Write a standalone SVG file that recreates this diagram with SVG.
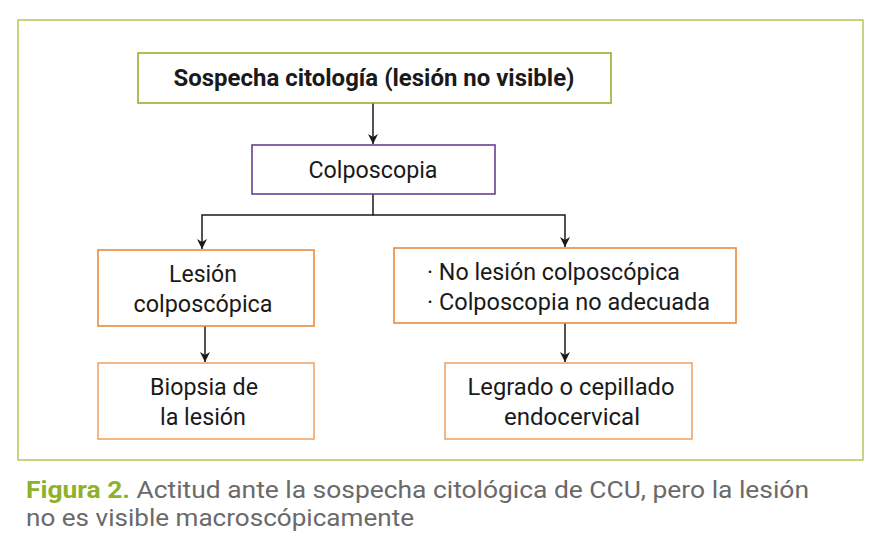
<svg xmlns="http://www.w3.org/2000/svg" width="888" height="552" viewBox="0 0 888 552">
<style>
.t{font-family:Roboto,"Liberation Sans",sans-serif;font-size:23px;fill:#1a1a1a}
.c{text-anchor:middle}
.b{fill:#fff;stroke-width:1.6}
.cap{font-family:Roboto,"Liberation Sans",sans-serif;font-size:23.5px;fill:#6a6a6a}
.con{stroke:#1a1a1a;stroke-width:1.5;fill:none}
</style>
<defs>
<marker id="ah" viewBox="0 0 10 14" refX="10" refY="7" markerWidth="10" markerHeight="14" markerUnits="userSpaceOnUse" orient="auto">
<path d="M0,2 L10,7 L0,12 L3,7 Z" fill="#1a1a1a"/>
</marker>
</defs>
<rect width="888" height="552" fill="#fff"/>
<rect x="18" y="20" width="845" height="440" fill="none" stroke="#b3c85a" stroke-width="1.5"/>
<g id="connectors">
<line class="con" x1="373" y1="103" x2="373" y2="144" marker-end="url(#ah)"/>
<polyline class="con" points="373,194 373,215 202,215 202,249" marker-end="url(#ah)"/>
<polyline class="con" points="373,215 565,215 565,247" marker-end="url(#ah)"/>
<line class="con" x1="205" y1="326" x2="205" y2="362" marker-end="url(#ah)"/>
<line class="con" x1="565" y1="323" x2="565" y2="362" marker-end="url(#ah)"/>
</g>
<g id="n1">
<rect class="b" x="138" y="53" width="473" height="50" stroke="#9aae2c"/>
<text class="t c" x="374" y="86" font-weight="bold" textLength="401" lengthAdjust="spacingAndGlyphs">Sospecha citología (lesión no visible)</text>
</g>
<g id="n2">
<rect class="b" x="252" y="145" width="243" height="49" stroke="#6b3f91"/>
<text class="t c" x="373" y="178" textLength="129" lengthAdjust="spacingAndGlyphs">Colposcopia</text>
</g>
<g id="n3">
<rect class="b" x="98" y="250" width="216" height="76" stroke="#e98a3c"/>
<text class="t c" x="203" y="282" textLength="68" lengthAdjust="spacingAndGlyphs">Lesión</text>
<text class="t c" x="203" y="312" textLength="139" lengthAdjust="spacingAndGlyphs">colposcópica</text>
</g>
<g id="n4">
<rect class="b" x="394" y="248" width="342" height="75" stroke="#e98a3c"/>
<text class="t" x="427" y="280" textLength="253" lengthAdjust="spacingAndGlyphs">· No lesión colposcópica</text>
<text class="t" x="427" y="310" textLength="283" lengthAdjust="spacingAndGlyphs">· Colposcopia no adecuada</text>
</g>
<g id="n5">
<rect class="b" x="98" y="363" width="216" height="76" stroke="#f0a568"/>
<text class="t c" x="204" y="395" textLength="108" lengthAdjust="spacingAndGlyphs">Biopsia de</text>
<text class="t c" x="203" y="425" textLength="86" lengthAdjust="spacingAndGlyphs">la lesión</text>
</g>
<g id="n6">
<rect class="b" x="445" y="363" width="247" height="76" stroke="#f0a568"/>
<text class="t c" x="571" y="395" textLength="207" lengthAdjust="spacingAndGlyphs">Legrado o cepillado</text>
<text class="t c" x="572" y="425" textLength="136" lengthAdjust="spacingAndGlyphs">endocervical</text>
</g>
<text class="cap" x="26" y="498" textLength="783" lengthAdjust="spacingAndGlyphs"><tspan font-weight="bold" fill="#8db12a">Figura 2.</tspan> Actitud ante la sospecha citológica de CCU, pero la lesión</text>
<text class="cap" x="26" y="526" textLength="388" lengthAdjust="spacingAndGlyphs">no es visible macroscópicamente</text>
</svg>
